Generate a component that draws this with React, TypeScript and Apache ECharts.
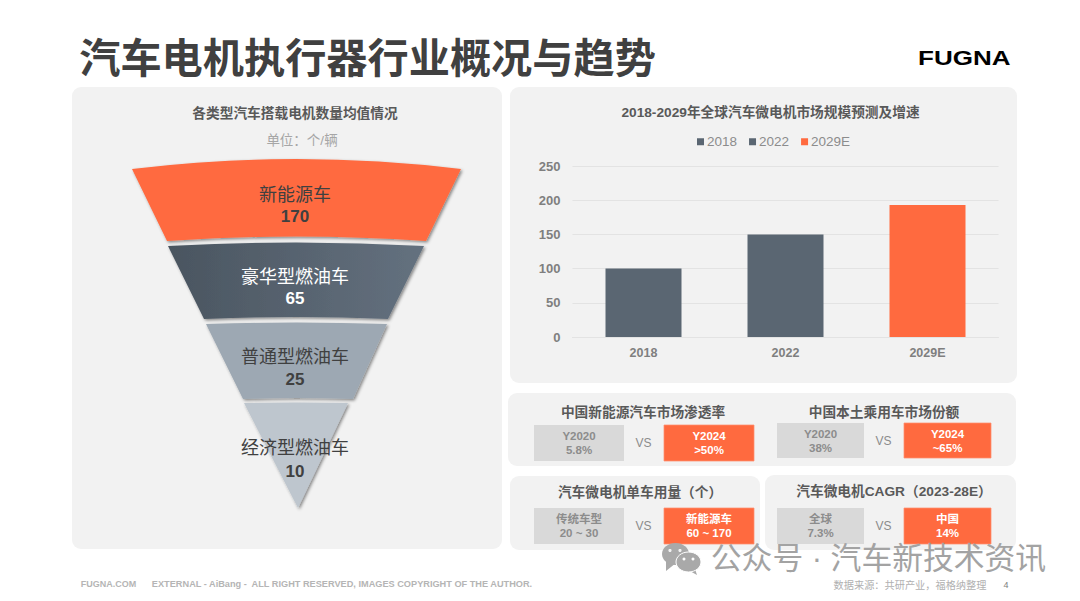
import React, { useEffect, useRef } from "react";
import * as echarts from "echarts";

const CN = '"Liberation Sans","Noto Sans CJK SC",sans-serif';

const pageTitle = "汽车电机执行器行业概况与趋势";
const funnelTitle = "各类型汽车搭载电机数量均值情况";
const funnelUnit = "单位：个/辆";
const funnelCategories = ["新能源车", "豪华型燃油车", "普通型燃油车", "经济型燃油车"];
const funnelValues = [170, 65, 25, 10];

const barTitle = "2018-2029年全球汽车微电机市场规模预测及增速";
const barCategories = ["2018", "2022", "2029E"];
const barValues = [100, 150, 193];
const axisTicks = [0, 50, 100, 150, 200, 250];

const cardTitles = ["中国新能源汽车市场渗透率", "中国本土乘用车市场份额", "汽车微电机单车用量（个）", "汽车微电机CAGR（2023-28E）"];
const cardLeftLabels = ["Y2020", "Y2020", "传统车型", "全球"];
const cardLeftValues = ["5.8%", "38%", "20 ~ 30", "7.3%"];
const cardRightLabels = ["Y2024", "Y2024", "新能源车", "中国"];
const cardRightValues = [">50%", "~65%", "60 ~ 170", "14%"];

const footerLeft = "FUGNA.COM";
const footerMid = "EXTERNAL - AiBang -  ALL RIGHT RESERVED, IMAGES COPYRIGHT OF THE AUTHOR.";
const footerSource = "数据来源：共研产业，福格纳整理";
const footerPage = "4";
const watermark = "公众号 · 汽车新技术资讯";

const ORANGE = "#FF6A3F";
const SLATE = "#5A6672";

const tierShapes = [
  { l0: 132, r0: 461, y0: 169, m0: 159, l1: 167, r1: 426, y1: 241, m1: 236.5, ly: 195, vy: 216 },
  { l0: 168, r0: 424, y0: 246, m0: 242.5, l1: 204, r1: 388, y1: 319, m1: 317, ly: 277, vy: 298 },
  { l0: 206, r0: 387, y0: 324, m0: 322.5, l1: 243, r1: 353, y1: 399, m1: 398, ly: 357, vy: 379 },
  { l0: 244, r0: 348, y0: 403, m0: 402.5, l1: 298, r1: 298, y1: 508, m1: 508, ly: 448, vy: 471 },
];
const tierFills: any[] = [
  ORANGE,
  new echarts.graphic.LinearGradient(0, 0, 1, 0, [
    { offset: 0, color: "#4A5560" },
    { offset: 1, color: "#64717F" },
  ]),
  "#9DA8B3",
  "#BEC6CE",
];
const tierText = ["#404040", "#FFFFFF", "#404040", "#404040"];

function panel(x: number, y: number, width: number, height: number) {
  return {
    type: "rect",
    z: -10,
    shape: { x, y, width, height, r: 9 },
    style: { fill: "#F2F2F2" },
    silent: true,
  };
}
function label(text: string, x: number, y: number, fontSize: number, fill: string, bold = false, extra: any = {}) {
  return {
    type: "text",
    z: 5,
    x,
    y,
    silent: true,
    style: {
      text,
      fill,
      align: "center",
      verticalAlign: "middle",
      font: `${bold ? "bold " : ""}${fontSize}px ${CN}`,
      ...extra,
    },
  };
}

const cardLayouts = [
  { cx: 643, ty: 412, lx: 534, lw: 90, rx: 664, rw: 90, by: 425, bh: 36, vs: 643.5 },
  { cx: 884, ty: 412, lx: 777, lw: 87, rx: 904, rw: 87, by: 423, bh: 35, vs: 883.5 },
  { cx: 640, ty: 492, lx: 534, lw: 90, rx: 664, rw: 90, by: 508, bh: 36, vs: 643.5 },
  { cx: 894, ty: 491, lx: 777, lw: 87, rx: 904, rw: 87, by: 508, bh: 36, vs: 883.5 },
];

function cardElements() {
  const out: any[] = [];
  const soft = { shadowColor: "rgba(0,0,0,0.35)", shadowBlur: 1.5, shadowOffsetX: 0.5, shadowOffsetY: 0.5 };
  cardTitles.forEach((t, i) => {
    const c = cardLayouts[i];
    out.push(label(t, c.cx, c.ty, 13.7, "#595959", true));
    out.push({ type: "rect", z: 1, silent: true, shape: { x: c.lx, y: c.by, width: c.lw, height: c.bh }, style: { fill: "#D9D9D9" } });
    out.push({ type: "rect", z: 1, silent: true, shape: { x: c.rx, y: c.by, width: c.rw, height: c.bh }, style: { fill: ORANGE, stroke: "#FF8F6E", lineWidth: 0.75 } });
    const lc = c.lx + c.lw / 2;
    const rc = c.rx + c.rw / 2;
    out.push(label(cardLeftLabels[i], lc, c.by + 11, 11.5, "#8C8C8C", true));
    out.push(label(cardLeftValues[i], lc, c.by + 25, 11.5, "#8C8C8C", true));
    out.push(label(cardRightLabels[i], rc, c.by + 11, 11.5, "#FFFFFF", true, soft));
    out.push(label(cardRightValues[i], rc, c.by + 25, 11.5, "#FFFFFF", true, soft));
    out.push(label("VS", c.vs, c.by + 18, 12, "#8C8C8C"));
  });
  return out;
}

function renderTier(params: any, api: any) {
  const i = params.dataIndex;
  const s = tierShapes[i];
  const cx = (s.l0 + s.r0) / 2;
  const d =
    `M${s.l0} ${s.y0}Q${cx} ${2 * s.m0 - s.y0} ${s.r0} ${s.y0}` +
    `L${s.r1} ${s.y1}` +
    (s.l1 === s.r1 ? "" : `Q${cx} ${2 * s.m1 - s.y1} ${s.l1} ${s.y1}`) +
    "Z";
  return {
    type: "group",
    children: [
      {
        type: "path",
        shape: { pathData: d },
        style: {
          fill: tierFills[i],
          shadowColor: "rgba(0,0,0,0.45)",
          shadowBlur: 3,
          shadowOffsetX: 1.5,
          shadowOffsetY: 1.5,
        },
      },
      {
        type: "text",
        x: 295,
        y: s.ly,
        style: {
          text: funnelCategories[i],
          fill: tierText[i],
          align: "center",
          verticalAlign: "middle",
          font: `18px ${CN}`,
        },
      },
      {
        type: "text",
        x: 295,
        y: s.vy,
        style: {
          text: String(api.value(0)),
          fill: tierText[i],
          align: "center",
          verticalAlign: "middle",
          font: `bold 17px ${CN}`,
        },
      },
    ],
  };
}

const bubble = "#A9A9A9";
function watermarkIcon() {
  const z = 20;
  const base = { silent: true };
  return [
    { ...base, type: "polygon", z, shape: { points: [[666, 560], [666, 571], [676, 563]] }, style: { fill: bubble } },
    { ...base, type: "ellipse", z, shape: { cx: 675.5, cy: 554, rx: 13.5, ry: 11 }, style: { fill: bubble } },
    { ...base, type: "circle", z: z + 1, shape: { cx: 670, cy: 550.5, r: 1.6 }, style: { fill: "#F2F2F2" } },
    { ...base, type: "circle", z: z + 1, shape: { cx: 680, cy: 550.5, r: 1.6 }, style: { fill: "#F2F2F2" } },
    { ...base, type: "polygon", z: z + 2, shape: { points: [[694, 566], [697, 575], [688, 570]] }, style: { fill: bubble } },
    { ...base, type: "ellipse", z: z + 2, shape: { cx: 688.5, cy: 562, rx: 12.5, ry: 10 }, style: { fill: bubble, stroke: "#FFFFFF", lineWidth: 1 } },
    { ...base, type: "circle", z: z + 3, shape: { cx: 684, cy: 559, r: 1.5 }, style: { fill: "#FFFFFF" } },
    { ...base, type: "circle", z: z + 3, shape: { cx: 693, cy: 559, r: 1.5 }, style: { fill: "#FFFFFF" } },
  ];
}

function buildOption(): any {
  return {
    animation: false,
    backgroundColor: "#FFFFFF",
    textStyle: { fontFamily: CN },
    legend: {
      left: 692,
      top: 130,
      itemWidth: 7,
      itemHeight: 7,
      itemGap: 12,
      icon: "rect",
      selectedMode: false,
      data: barCategories,
      textStyle: { color: "#8C8C8C", fontSize: 13.5, padding: [0, 0, 0, -2], fontFamily: CN },
    },
    grid: { left: 572.5, top: 166, width: 426, height: 171, containLabel: false },
    xAxis: {
      type: "category",
      data: barCategories,
      axisTick: { show: false },
      axisLine: { lineStyle: { color: "#E3E3E3", width: 1 } },
      axisLabel: { color: "#7F7F7F", fontSize: 12.5, fontWeight: "bold", margin: 10, fontFamily: CN },
    },
    yAxis: {
      type: "value",
      min: axisTicks[0],
      max: axisTicks[axisTicks.length - 1],
      interval: axisTicks[1] - axisTicks[0],
      axisLine: { show: false },
      axisTick: { show: false },
      splitLine: { lineStyle: { color: "#E3E3E3", width: 1 } },
      axisLabel: { color: "#7F7F7F", fontSize: 13, fontWeight: "bold", margin: 12, fontFamily: CN },
    },
    graphic: {
      elements: [
        panel(72, 87, 430, 462),
        panel(510, 87, 507, 296),
        panel(508, 393, 508, 73),
        panel(510, 476, 250, 74),
        panel(765, 475, 251, 75),
        label(pageTitle, 367.5, 59, 41.2, "#404040", true, { shadowColor: "rgba(0,0,0,0.3)", shadowBlur: 2, shadowOffsetX: 1, shadowOffsetY: 1 }),
        {
          type: "text",
          z: 5,
          x: 918,
          y: 47.5,
          scaleX: 1.24,
          silent: true,
          style: { text: "FUGNA", fill: "#000000", font: `bold 21px "Liberation Sans",sans-serif`, align: "left", verticalAlign: "top" },
        },
        label(funnelTitle, 295, 113, 13.7, "#595959", true),
        label(funnelUnit, 302, 140, 13.5, "#A6A6A6"),
        label(barTitle, 770.5, 112, 13.7, "#595959", true),
        ...cardElements(),
        label(footerLeft, 108.5, 584, 9, "#B5B5B5", true),
        label(footerMid, 342, 584, 9.2, "#B5B5B5", true),
        label(footerSource, 910, 585, 10.2, "#B0B0B0"),
        label(footerPage, 1006, 585, 9, "#808080"),
        ...watermarkIcon(),
        { ...label(watermark, 878.5, 558, 30.8, "#A3A3A3"), z: 24 },
      ],
    },
    series: [
      ...barCategories.map((name, i) => ({
        name,
        type: "bar",
        stack: "bars",
        barWidth: 76,
        itemStyle: { color: i === 2 ? ORANGE : SLATE },
        data: barValues.map((v, j) => (j === i ? v : null)),
      })),
      {
        type: "custom",
        coordinateSystem: "none",
        renderItem: renderTier,
        silent: true,
        z: 3,
        data: funnelValues.map((v) => [v]),
      },
    ],
  };
}

export default function App() {
  const ref = useRef<HTMLDivElement>(null);
  useEffect(() => {
    const chart = echarts.init(ref.current!, undefined, { renderer: "svg" });
    chart.setOption(buildOption());
    return () => chart.dispose();
  }, []);
  return <div ref={ref} style={{ position: "absolute", left: 0, top: 0, width: 1080, height: 601 }} />;
}
